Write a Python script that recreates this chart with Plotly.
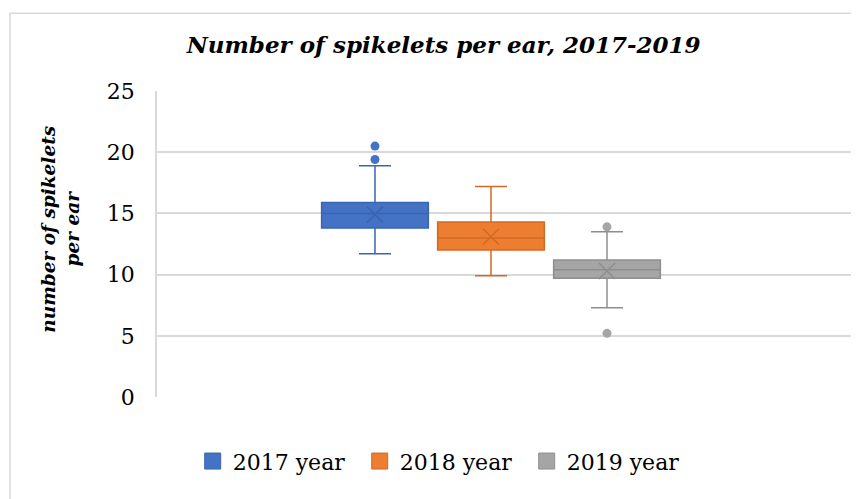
import plotly.graph_objects as go

# Dati (statistiche del box plot)
years = ["2017 year", "2018 year", "2019 year"]
positions = [1, 2, 3]
q1 = [13.8, 12.0, 9.7]
median = [15.0, 13.0, 10.4]
q3 = [15.9, 14.3, 11.2]
lower_whisker = [11.7, 9.9, 7.3]
upper_whisker = [18.9, 17.2, 13.5]
means = [14.9, 13.1, 10.3]
outliers = [[19.4, 20.5], [], [13.9, 5.2]]

fill_colors = ["#4472C4", "#ED7D31", "#A5A5A5"]
line_colors = ["#3A64B0", "#D26A24", "#8E8E8E"]

serif = "DejaVu Serif, serif"

fig = go.Figure()

for i, name in enumerate(years):
    fig.add_trace(go.Box(
        name=name,
        x=[positions[i]],
        q1=[q1[i]], median=[median[i]], q3=[q3[i]],
        lowerfence=[lower_whisker[i]], upperfence=[upper_whisker[i]],
        width=0.92,
        whiskerwidth=0.3,
        fillcolor=fill_colors[i],
        line=dict(color=line_colors[i], width=1.5),
        hoverinfo="skip",
        showlegend=False,
    ))
    # media come "X"
    fig.add_trace(go.Scatter(
        x=[positions[i]], y=[means[i]], mode="markers", showlegend=False,
        marker=dict(symbol="x-thin", size=16,
                    line=dict(color=line_colors[i], width=1.5)),
    ))
    # valori anomali
    if outliers[i]:
        fig.add_trace(go.Scatter(
            x=[positions[i]] * len(outliers[i]), y=outliers[i],
            mode="markers", showlegend=False,
            marker=dict(symbol="circle", size=9, color=fill_colors[i]),
        ))

# voci di legenda con quadratino pieno
for i, name in enumerate(years):
    fig.add_trace(go.Scatter(
        x=[None], y=[None], mode="markers", name=name,
        marker=dict(symbol="square", size=17, color=fill_colors[i],
                    line=dict(color=line_colors[i], width=1)),
    ))

# cornice del grafico
fig.add_shape(type="rect", xref="paper", yref="paper",
              x0=-0.21, x1=1.05, y0=-0.5, y1=1.254,
              line=dict(color="#D9D9D9", width=1.5), layer="below")

fig.add_annotation(
    text="number of spikelets<br>per ear", textangle=-90,
    xref="paper", yref="paper", x=-0.138, y=0.548,
    xanchor="center", yanchor="middle",
    showarrow=False,
    font=dict(family=serif, size=18.5, color="#000000", weight="bold", style="italic"),
)

# la pagina ha un margine di 8px: la figura parte da (8, 8)
fig.update_layout(
    width=851, height=491,
    margin=dict(l=149, r=2, t=83, b=102, autoexpand=False),
    paper_bgcolor="white", plot_bgcolor="white",
    title=dict(text="<i>Number of spikelets per ear, 2017-2019</i>",
               xref="container", x=0.512, y=1 - 37 / 491, yanchor="middle", xanchor="center",
               font=dict(family=serif, size=23, color="#000000", weight="bold")),
    xaxis=dict(range=[-0.879, 5.155], showticklabels=False, showgrid=False,
               zeroline=False, showline=False, fixedrange=True),
    yaxis=dict(range=[0, 25], dtick=5, showgrid=True, gridcolor="#D9D9D9",
               gridwidth=1.5, zeroline=False, showline=True, linecolor="#D9D9D9",
               linewidth=1.5, ticks="", ticklabelstandoff=16,
               tickfont=dict(family=serif, size=22, color="#000000")),
    showlegend=True,
    legend=dict(orientation="h", x=0.051, xanchor="left", y=-0.21, yanchor="middle",
                font=dict(family=serif, size=22, color="#000000"),
                itemwidth=30, entrywidth=122, entrywidthmode="pixels",
                traceorder="normal"),
)

fig.write_html("out.html")
